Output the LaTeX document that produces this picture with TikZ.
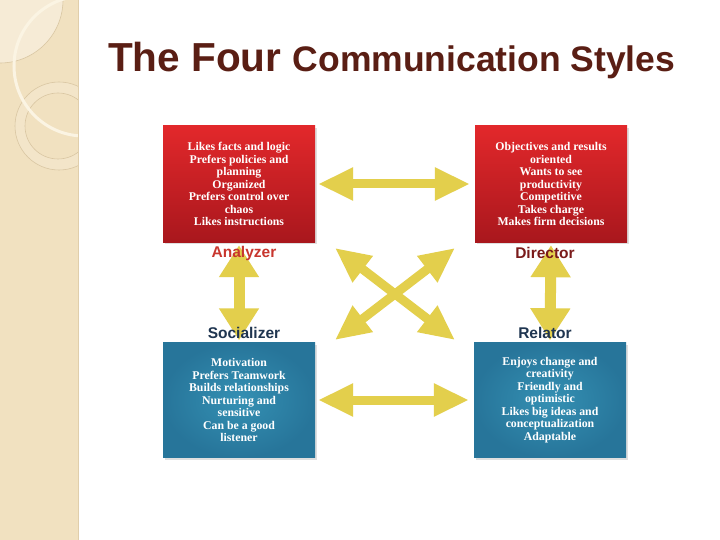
\documentclass[tikz,border=0pt]{standalone}
\usepackage{fontspec}
\setmainfont{Liberation Serif}
\newfontfamily\arialf{Liberation Sans}
\usetikzlibrary{arrows.meta,shadows,calc}
\definecolor{titlebrown}{HTML}{5A1E14}
\definecolor{side}{HTML}{F1E1C0}
\definecolor{sidelight}{HTML}{F6EBD6}
\definecolor{sideline}{HTML}{D9C6A2}
\definecolor{ringfill}{HTML}{F3E5C9}
\definecolor{creamarc}{HTML}{FBF4E3}
\definecolor{redtop}{HTML}{E2282B}
\definecolor{redbot}{HTML}{A9171D}
\definecolor{bluein}{HTML}{3490B3}
\definecolor{blueout}{HTML}{27759A}
\definecolor{arrowyel}{HTML}{E3CF4C}
\definecolor{analyzercol}{HTML}{C8362E}
\definecolor{directorcol}{HTML}{7A1A1A}
\definecolor{navylab}{HTML}{1F3550}
\tikzset{
  redbox/.style={minimum width=152pt, minimum height=116pt, inner sep=0pt,
    top color=redtop, bottom color=redbot, draw=none,
    drop shadow={opacity=0.25, shadow xshift=1.5pt, shadow yshift=-2pt},
    text=white, align=center, font=\fontsize{11.8}{12.5}\selectfont\bfseries},
  bluebox/.style={minimum width=152pt, minimum height=115pt, inner sep=0pt,
    inner color=bluein, outer color=blueout, draw=none,
    drop shadow={opacity=0.25, shadow xshift=1.5pt, shadow yshift=-2pt},
    text=white, align=center, font=\fontsize{11.8}{12.5}\selectfont\bfseries},
  fat/.style={draw=arrowyel, line width=9pt,
    {Triangle[length=35pt,width=31pt,fill=arrowyel]}-{Triangle[length=35pt,width=31pt,fill=arrowyel]}},
  fatv/.style={draw=arrowyel, line width=11pt,
    {Triangle[length=32pt,width=38pt,fill=arrowyel]}-{Triangle[length=32pt,width=38pt,fill=arrowyel]}},
  stylelabel/.style={font=\arialf\bfseries\fontsize{15.5}{16}\selectfont, inner sep=0pt}
}
\begin{document}
\begin{tikzpicture}[x=1pt,y=-1pt]
\useasboundingbox (0,0) rectangle (720,540);
\fill[white] (0,0) rectangle (720,540);
% sidebar
\begin{scope}
\clip (0,0) rectangle (78,540);
\fill[side] (0,0) rectangle (78,540);
\fill[sidelight] (0,0) -- (63,0) arc[start angle=0, end angle=90, radius=63] -- cycle;
\draw[sideline, line width=0.6pt] (63,0) arc[start angle=0, end angle=90, radius=63];
\fill[ringfill, even odd rule] (59,126) circle (44) (58,126) circle (33);
\draw[sideline, line width=0.6pt] (59,126) circle (44);
\draw[sideline, line width=0.6pt] (58,126) circle (33);
\draw[creamarc, line width=3pt] (84,66) circle (70);
\end{scope}
\draw[sideline!70!side, line width=0.8pt] (78,0) -- (78,540);
% title
\node[anchor=base west, inner sep=0pt, text=titlebrown, font=\arialf\bfseries] (title) at (108,72)
  {\fontsize{40.5}{41}\selectfont The Four \fontsize{35.5}{36}\selectfont Communication Styles};
% boxes
\node[redbox] (an) at (239,184) {Likes facts and logic\\Prefers policies and\\planning\\Organized\\Prefers control over\\chaos\\Likes instructions};
\node[redbox] (di) at (551,184) {Objectives and results\\oriented\\Wants to see\\productivity\\Competitive\\Takes charge\\Makes firm decisions};
\node[bluebox] (so) at (239,400) {Motivation\\Prefers Teamwork\\Builds relationships\\Nurturing and\\sensitive\\Can be a good\\listener};
\node[bluebox] (re) at (550,400) {Enjoys change and\\creativity\\Friendly and\\optimistic\\Likes big ideas and\\conceptualization\\Adaptable};
% arrows
\draw[fat, shorten <=3pt, shorten >=5pt] (an.east) -- (di.west);
\draw[fat, shorten <=3pt, shorten >=5pt] (so.east) -- (re.west);
\draw[fatv, shorten <=3pt, shorten >=2pt] (an.south) -- (so.north);
\draw[fatv, shorten <=3pt, shorten >=2pt] (di.south) -- (re.north);
\coordinate (x1) at (455,248);
\coordinate (x2) at (335,340);
\coordinate (x3) at (335,248);
\coordinate (x4) at (455,340);
\draw[fat] (x1) -- (x2);
\draw[fat] (x3) -- (x4);
% labels
\node[stylelabel, text=analyzercol] (anl) at (244,253) {Analyzer};
\node[stylelabel, text=directorcol] (dil) at (545,253) {Director};
\node[stylelabel, text=navylab] (sol) at (244,333) {Socializer};
\node[stylelabel, text=navylab] (rel) at (545,333) {Relator};
\end{tikzpicture}
\end{document}
